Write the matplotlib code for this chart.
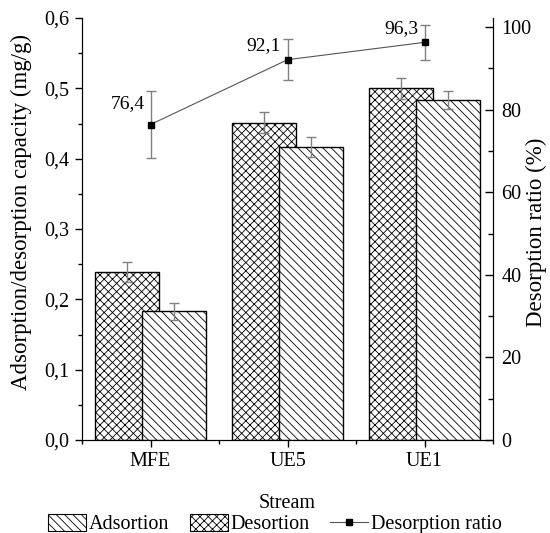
import matplotlib
matplotlib.use("Agg")
import matplotlib.pyplot as plt
import numpy as np
from matplotlib.patches import Patch
from matplotlib.lines import Line2D
from matplotlib.ticker import MultipleLocator, FuncFormatter

plt.rcParams['font.family'] = ['Liberation Serif', 'DejaVu Serif']
plt.rcParams['hatch.linewidth'] = 0.6

streams = ["MFE", "UE5", "UE1"]
cross_vals = [0.239, 0.451, 0.500]
cross_err = [0.014, 0.015, 0.015]
diag_vals = [0.183, 0.417, 0.483]
diag_err = [0.012, 0.014, 0.013]
ratio = [76.4, 92.1, 96.3]
ratio_err = [8.2, 4.9, 4.2]
ratio_labels = ["76,4", "92,1", "96,3"]
label_offsets = [(-4, 9), (-5, 4), (-4, 4)]

W, H = 550, 533
fig = plt.figure(figsize=(5.5, 5.33), dpi=100)
ax = fig.add_axes([82 / W, 1 - 440 / H, 411 / W, 422 / H])
x = np.arange(len(streams))
w = 0.467
off = 0.168
ecol = '#808080'
ax.bar(x - off, cross_vals, w, color='white', edgecolor='black', hatch='xxxx', linewidth=1.0, zorder=2)
ax.errorbar(x - off, cross_vals, yerr=cross_err, fmt='none', ecolor=ecol, elinewidth=1, capsize=3.5, zorder=3)
ax.bar(x + off, diag_vals, w, color='white', edgecolor='black', hatch='\\\\\\\\', linewidth=1.0, zorder=4)
ax.errorbar(x + off, diag_vals, yerr=diag_err, fmt='none', ecolor=ecol, elinewidth=1, capsize=3.5, zorder=5)

ax.set_xlim(-0.5, 2.5)
ax.set_ylim(0, 0.6)
ax.set_xticks(x)
ax.set_xticklabels(streams)
ax.xaxis.set_minor_locator(MultipleLocator(1, offset=0.5))
ax.yaxis.set_major_locator(MultipleLocator(0.1))
ax.yaxis.set_minor_locator(MultipleLocator(0.05))
ax.yaxis.set_major_formatter(FuncFormatter(lambda v, p: f"{v:.1f}".replace('.', ',')))
ax.spines['top'].set_visible(False)
ax.tick_params(axis='both', which='major', labelsize=14.5, length=5, width=1, pad=4)
ax.tick_params(axis='both', which='minor', length=3, width=1)
ax.set_xlabel("Stream", fontsize=14.5, labelpad=16)

ax2 = ax.twinx()
ax2.set_ylim(0, 102.2)
ax2.spines['top'].set_visible(False)
ax2.yaxis.set_major_locator(MultipleLocator(20))
ax2.yaxis.set_minor_locator(MultipleLocator(10))
ax2.tick_params(axis='y', which='major', direction='in', labelsize=14.5, length=6, width=1, pad=6)
ax2.tick_params(axis='y', which='minor', direction='in', length=3.5, width=1)
ax2.errorbar(x, ratio, yerr=ratio_err, fmt='none', ecolor=ecol, elinewidth=1, capsize=3.5, zorder=3)
ax2.plot(x, ratio, color='#555555', linewidth=0.8, marker='s', markersize=5,
         markerfacecolor='black', markeredgecolor='black', zorder=4)
for xi, yi, lab, o in zip(x, ratio, ratio_labels, label_offsets):
    ax2.annotate(lab, (xi, yi), xytext=o, textcoords='offset points',
                 ha='right', va='bottom', fontsize=14)

fig.text(21 / W, 1 - 212 / H, "Adsorption/desorption capacity (mg/g)", rotation=90,
         ha='center', va='center', fontsize=16.5)
fig.text(536 / W, 1 - 232 / H, "Desorption ratio (%)", rotation=90,
         ha='center', va='center', fontsize=16.5)

handles = [
    Patch(facecolor='white', edgecolor='black', hatch='\\\\\\\\', linewidth=0.8, label='Adsortion'),
    Patch(facecolor='white', edgecolor='black', hatch='xxxx', linewidth=0.8, label='Desortion'),
    Line2D([0], [0], color='#555555', linewidth=0.8, marker='s', markersize=4.5,
           markerfacecolor='black', markeredgecolor='black', label='Desorption ratio'),
]
fig.legend(handles=handles, loc='lower center', bbox_to_anchor=(0.5, -0.025), ncol=3,
           frameon=False, fontsize=14.5, handlelength=1.9, handleheight=0.9,
           handletextpad=0.15, columnspacing=1.0, borderaxespad=0.2)

fig.savefig("out.png", dpi=100)
